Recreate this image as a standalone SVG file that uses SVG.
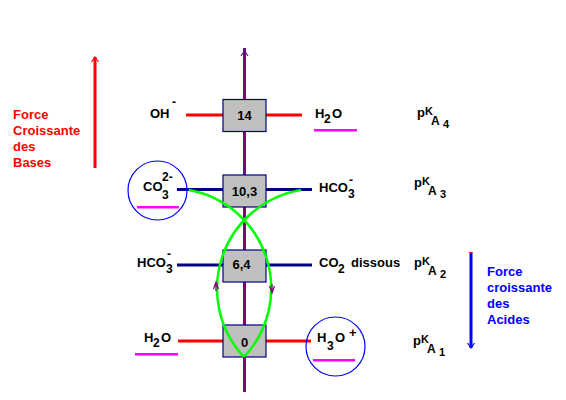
<svg xmlns="http://www.w3.org/2000/svg" width="566" height="400" viewBox="0 0 566 400">
<style>
text{font-family:"Liberation Sans",Arial,sans-serif;font-weight:bold;font-size:13px;fill:#000}
.s{font-size:12px}
.kp{font-size:13px}
.kk{font-size:11px}
.ka{font-size:12px}
.kn{font-size:11px}
.red{fill:#ff0000}
.blue{fill:#0000ff}
.box{fill:#c0c0c0;stroke:#000080;stroke-width:1.2}
.lr{stroke:#ff0000;stroke-width:3;fill:none}
.ln{stroke:#000080;stroke-width:3;fill:none}
.ax{stroke:#800080;stroke-width:3;fill:none}
.tip{stroke-width:1.2;fill:none}
.gr{stroke:#00ff00;stroke-width:2.5;fill:none}
.ul{fill:#ff00ff}
.circ{fill:none;stroke:#0000ff;stroke-width:1.2}
</style>
<g id="connectors">
<line class="ax" x1="244.5" y1="48" x2="244.5" y2="392"/>
<path class="tip" stroke="#800080" d="M241,56 L244.5,51 L248,56"/>
<line class="lr" x1="186" y1="115" x2="302" y2="115"/>
<line class="ln" x1="177" y1="189.5" x2="312" y2="189.5"/>
<line class="ln" x1="177" y1="265" x2="312" y2="265"/>
<line class="lr" x1="178" y1="341" x2="311" y2="341"/>
</g>
<g id="node-14"><rect class="box" x="223" y="99.5" width="43" height="32"/></g>
<g id="node-10-3"><rect class="box" x="223" y="175" width="43" height="32"/></g>
<g id="node-6-4"><rect class="box" x="223" y="250" width="43" height="32"/></g>
<g id="node-0"><rect class="box" x="223" y="325" width="43" height="32"/></g>
<g id="curves">
<path class="gr" d="M189,190 A100,100 0 0 1 244,357"/>
<path class="gr" d="M301,190 A100,100 0 0 0 244,357"/>
<path class="tip" stroke="#800080" stroke-width="1.5" d="M213.5,289 L216,282 L218.5,289 M216,282 L216,291"/>
<path class="tip" stroke="#800080" stroke-width="1.5" d="M269.5,286 L272,293 L274.5,286 M272,284 L272,293"/>
</g>
<g id="labels-values">
<text x="244.5" y="120" text-anchor="middle">14</text>
<text x="244.5" y="196" text-anchor="middle">10,3</text>
<text x="241.5" y="269" text-anchor="middle">6,4</text>
<text x="244.5" y="347" text-anchor="middle">0</text>
</g>
<g id="node-OH"><text x="150" y="118">OH</text><text class="s" x="172" y="106">-</text></g>
<g id="node-H2O-top">
<text x="315" y="118">H</text><text class="s" x="324" y="123">2</text><text x="332" y="118">O</text>
<rect class="ul" x="314" y="129" width="43" height="2.5"/>
</g>
<g id="node-CO3">
<circle class="circ" cx="157.5" cy="190.5" r="29.5"/>
<text x="143" y="191">CO</text><text class="s" x="162" y="181">2-</text><text class="s" x="162" y="199">3</text>
<rect class="ul" x="137" y="206" width="42" height="2.5"/>
</g>
<g id="node-HCO3-right"><text x="319" y="192">HCO</text><text class="s" x="348" y="198">3</text><text class="s" x="349" y="184">-</text></g>
<g id="node-HCO3-left"><text x="137" y="267">HCO</text><text class="s" x="166" y="273">3</text><text class="s" x="167" y="258">-</text></g>
<g id="node-CO2"><text x="319" y="267">CO</text><text class="s" x="338" y="273">2</text><text x="351" y="267">dissous</text></g>
<g id="node-H2O-bottom">
<text x="144" y="342">H</text><text class="s" x="153" y="347">2</text><text x="161" y="342">O</text>
<rect class="ul" x="135" y="353" width="43" height="2.5"/>
</g>
<g id="node-H3O">
<circle class="circ" cx="335.5" cy="346.5" r="29.5"/>
<text x="317" y="342">H</text><text class="s" x="327" y="350">3</text><text x="335" y="342">O</text><text x="349" y="337">+</text>
<rect class="ul" x="313" y="359" width="42" height="2.5"/>
</g>
<g id="pKa">
<text class="kp" x="417" y="117">p</text><text class="kk" x="425" y="115">K</text><text class="ka" x="431" y="125">A</text><text class="kn" x="443" y="128">4</text>
<text class="kp" x="414" y="187">p</text><text class="kk" x="422" y="185">K</text><text class="ka" x="428" y="195">A</text><text class="kn" x="440" y="198">3</text>
<text class="kp" x="414" y="267">p</text><text class="kk" x="422" y="265">K</text><text class="ka" x="428" y="275">A</text><text class="kn" x="440" y="278">2</text>
<text class="kp" x="413" y="345">p</text><text class="kk" x="421" y="343">K</text><text class="ka" x="427" y="353">A</text><text class="kn" x="439" y="356">1</text>
</g>
<g id="bases">
<line class="lr" x1="95" y1="57" x2="95" y2="168"/>
<path class="tip" stroke="#ff0000" d="M91.5,62 L95,57 L98.5,62"/>
<text class="red" x="13" y="119">Force</text>
<text class="red" x="13" y="135">Croissante</text>
<text class="red" x="13" y="151">des</text>
<text class="red" x="13" y="167">Bases</text>
</g>
<g id="acides">
<line stroke="#0000ff" stroke-width="3" x1="471" y1="252" x2="471" y2="348"/>
<rect x="469.5" y="252" width="3" height="1.2" fill="#ff0000"/>
<path class="tip" stroke="#0000ff" d="M467.5,343 L471,348 L474.5,343"/>
<text class="blue" x="487" y="276">Force</text>
<text class="blue" x="487" y="292">croissante</text>
<text class="blue" x="487" y="308">des</text>
<text class="blue" x="487" y="324">Acides</text>
</g>
</svg>
